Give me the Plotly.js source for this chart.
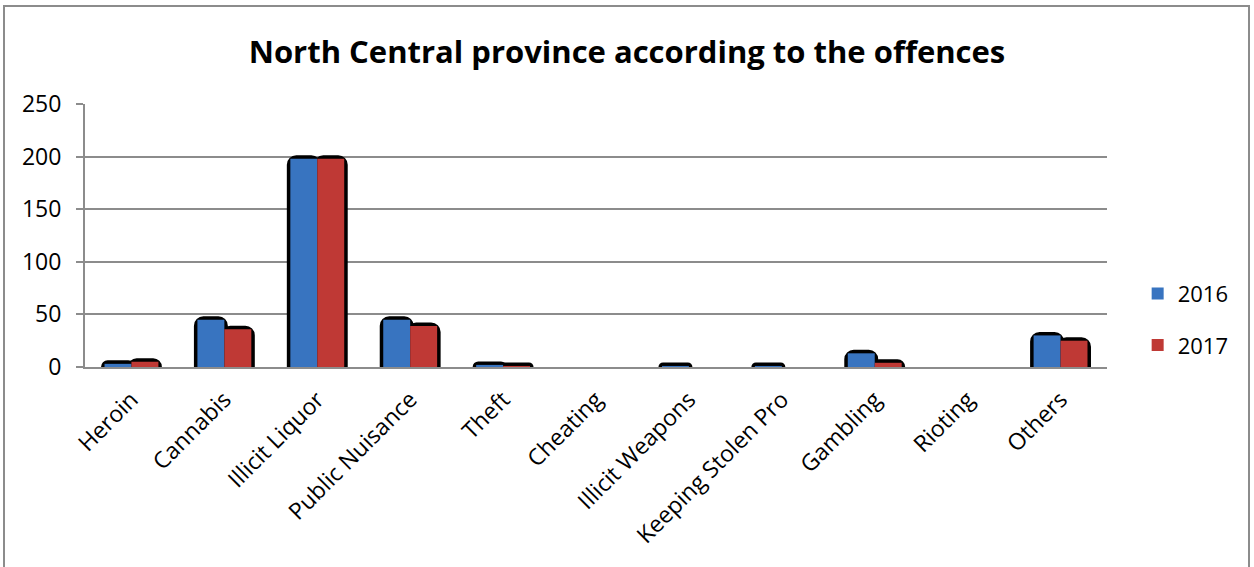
<!DOCTYPE html>
<html>
<head>
<meta charset="utf-8">
<script src="https://cdn.plot.ly/plotly-3.0.1.min.js"></script>
<style>
html,body{margin:0;padding:0;background:#fff;overflow:hidden;}
#frame{position:absolute;left:3px;top:5px;width:1247px;height:620px;border:2px solid #8c8c8c;box-sizing:border-box;pointer-events:none;z-index:5;}
#chart{position:absolute;left:0;top:0;width:1254px;height:567px;}
</style>
</head>
<body>
<div id="chart"></div>
<div id="frame"></div>
<script>
const categories = ["Heroin","Cannabis","Illicit Liquor","Public Nuisance","Theft","Cheating","Illicit Weapons","Keeping Stolen Pro","Gambling","Rioting","Others"];
const values2016 = [3, 45, 198, 45, 2, 0, 1, 1, 13, 0, 30];
const values2017 = [5, 36, 198, 39, 1, 0, 0, 0, 4, 0, 25];
const seriesNames = ["2016","2017"];
const yTicks = [0, 50, 100, 150, 200, 250];

const FONT = "Open Sans, Noto Sans, sans-serif";
const W = 0.29;

function shadow(vals, off){
  return {type:"bar", x:categories, y:vals.map(v => v > 0 ? v : null), offset:off, width:W, showlegend:false, hoverinfo:"skip",
          marker:{color:"#000", cornerradius:6, line:{color:"#000", width:7}}};
}
const traces = [
  shadow(values2016, -W), shadow(values2017, 0),
  {type:"bar", name:seriesNames[0], x:categories, y:values2016, offset:-W, width:W, legendgroup:"a",
   marker:{color:"#3874c0", line:{width:0}}},
  {type:"bar", name:seriesNames[1], x:categories, y:values2017, offset:0, width:W, legendgroup:"b",
   marker:{color:"#bf3935", line:{width:0}}}
];

const layout = {
  width:1254, height:567,
  margin:{l:85, r:147, t:104, b:200},
  paper_bgcolor:"#fff", plot_bgcolor:"#fff",
  barmode:"overlay",
  title:{text:"<b>North Central province according to the offences</b>", x:0.5, xref:"container", xanchor:"center",
         y:0.908, yref:"container", yanchor:"middle", font:{family:FONT, size:31, color:"#000"}},
  font:{family:FONT, color:"#000"},
  showlegend:true,
  legend:{x:1.03, xanchor:"left", y:0.18, yanchor:"middle", font:{size:22, family:FONT}, tracegroupgap:20, traceorder:"grouped", itemwidth:30},
  xaxis:{type:"category", tickangle:-45, tickfont:{size:23, family:FONT}, showline:true, linecolor:"#8c8c8c", linewidth:2,
         ticks:"", showgrid:false, zeroline:false, ticklabelstandoff:8},
  yaxis:{range:[0,250], tickvals:yTicks, ticktext:yTicks.map(String), tickfont:{size:23, family:FONT},
         showgrid:true, gridcolor:"#8c8c8c", gridwidth:2, showline:true, linecolor:"#8c8c8c", linewidth:2,
         ticks:"outside", ticklen:7, tickcolor:"#8c8c8c", tickwidth:2, zeroline:false, ticklabelstandoff:10}
};

Plotly.newPlot("chart", traces, layout, {displayModeBar:false, staticPlot:true});
</script>
</body>
</html>
